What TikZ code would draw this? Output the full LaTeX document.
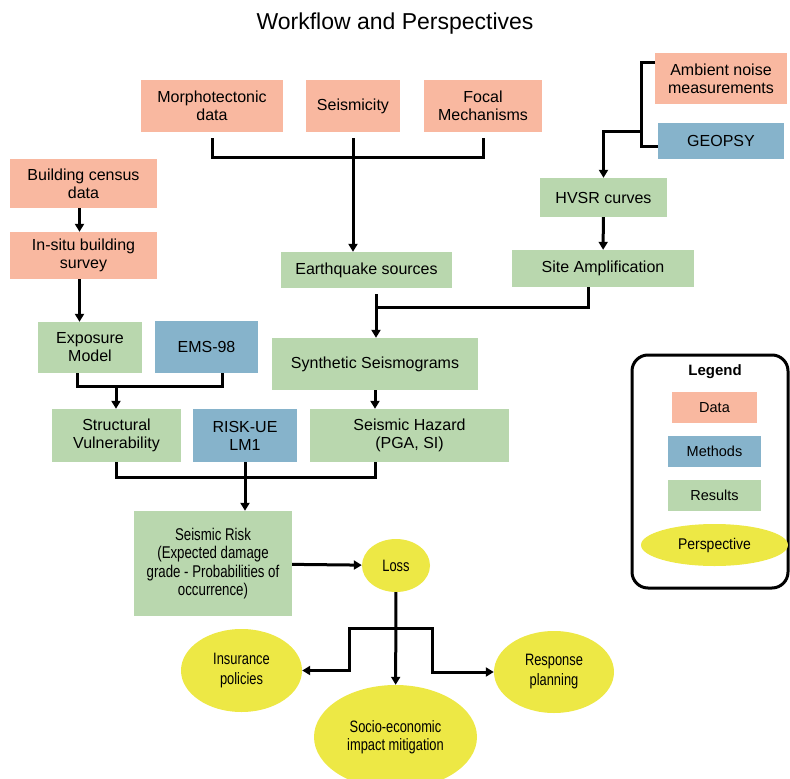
\documentclass[tikz,border=0pt]{standalone}
\usepackage{fontspec}
\setmainfont{Liberation Sans}
\newfontfamily\narrowfont[FakeStretch=0.78]{Liberation Sans}
\newfontfamily\legendfont[FakeStretch=0.9]{Liberation Sans}
\usepackage{xcolor}
\definecolor{cData}{HTML}{F9B8A0}
\definecolor{cMethod}{HTML}{86B3CB}
\definecolor{cResult}{HTML}{B9D7AE}
\definecolor{cPersp}{HTML}{EDE845}
\usetikzlibrary{positioning,arrows.meta,shapes.geometric}
\tikzset{
  node-box/.style={draw=none,inner sep=2pt,align=center,
    font=\fontsize{16}{18}\selectfont},
  node-data/.style={node-box,fill=cData},
  node-method/.style={node-box,fill=cMethod},
  node-result/.style={node-box,fill=cResult},
  node-persp/.style={ellipse,fill=cPersp,inner sep=1pt,align=center,
    font=\narrowfont\fontsize{16.5}{20}\selectfont},
  node-legend/.style={font=\fontsize{14.5}{16}\selectfont},
  box-size/.style 2 args={minimum width=#1,minimum height=#2},
  line/.style={line width=3pt,draw=black},
  arrow/.style={line,-{Triangle[length=8pt,width=9pt]}},
}

\begin{document}
\begin{tikzpicture}[x=1pt,y=-1pt]
  \useasboundingbox (0,0) rectangle (790,779);
  \node[font=\fontsize{23}{26}\selectfont] (title) at (395,24) {Workflow and Perspectives};

  % inputs
  \node[node-data,box-size={142}{52}] (morph) at (212,106) {Morphotectonic\\data};
  \node[node-data,box-size={94}{52}] (seis) at (353,106) {Seismicity};
  \node[node-data,box-size={118}{52}] (focal) at (483,106) {Focal\\Mechanisms};
  \node[node-data,box-size={132}{51}] (amb) at (721,78.5) {Ambient noise\\measurements};
  \node[node-method,box-size={126}{36}] (geo) at (721,141) {GEOPSY};
  \node[node-data,box-size={147}{49}] (census) at (83.5,183.5) {Building census\\data};
  \node[node-data,box-size={147}{47}] (insitu) at (83.5,255.5) {In-situ building\\survey};

  % results
  \node[node-result,box-size={127}{39}] (hvsr) at (603.5,197.5) {HVSR curves};
  \node[node-result,box-size={171}{36}] (eq) at (366.5,270) {Earthquake sources};
  \node[node-result,box-size={182}{37}] (site) at (603,268.5) {Site Amplification};
  \node[node-result,box-size={104}{51}] (expo) at (90,347.5) {Exposure\\Model};
  \node[node-method,box-size={103}{52}] (ems) at (206.5,347) {EMS-98};
  \node[node-result,box-size={206}{52}] (synth) at (375,364) {Synthetic Seismograms};
  \node[node-result,box-size={129}{53}] (struct) at (116.5,435.5) {Structural\\Vulnerability};
  \node[node-method,box-size={104}{53}] (riskue) at (245,435.5) {RISK-UE\\LM1};
  \node[node-result,box-size={199}{53}] (haz) at (409.5,435.5) {Seismic Hazard\\(PGA, SI)};
  \node[node-result,box-size={158}{105},font=\narrowfont\fontsize{17}{18.3}\selectfont]
    (srisk) at (213,563.5) {Seismic Risk\\(Expected damage\\grade - Probabilities of\\occurrence)};

  % perspectives
  \node[node-persp,box-size={68}{53}] (loss) at (396,565.5) {Loss};
  \node[node-persp,box-size={121}{83}] (ins) at (241.5,670.5) {Insurance\\policies};
  \node[node-persp,box-size={120}{82}] (resp) at (554,672) {Response\\planning};
  \node[node-persp,box-size={163}{104},font=\narrowfont\fontsize{16.5}{18.3}\selectfont]
    (socio) at (395.5,737) {Socio-economic\\impact mitigation};

  % legend
  \node[draw=black,line width=3pt,rounded corners=16pt,box-size={156}{233}] (legend) at (710,471.5) {};
  \node[node-legend,font=\bfseries\fontsize{15}{16}\selectfont] (legtitle) at (715,372) {Legend};
  \node[node-box,node-legend,fill=cData,box-size={85}{31}] (legdata) at (714.5,407.5) {Data};
  \node[node-box,node-legend,fill=cMethod,box-size={93}{31}] (legmethod) at (714.5,451.5) {Methods};
  \node[node-box,node-legend,fill=cResult,box-size={93}{31}] (legresult) at (714.5,495.5) {Results};
  \node[node-persp,box-size={147}{42},font=\legendfont\fontsize{15.5}{17}\selectfont]
    (legpersp) at (714.5,545) {Perspective};

  % junctions
  \coordinate (jsrc) at (353,157);
  \coordinate (jgeo) at (641,131);
  \coordinate (jsyn) at (376,307);
  \coordinate (jvul) at (116,386);
  \coordinate (jrisk) at (245,477);
  \coordinate (jloss) at (396,628);
  \coordinate (jlossl) at (349,628);
  \coordinate (jlossr) at (432,628);

  \draw[line,shorten <=6pt,shorten >=6pt] (morph.south) |- (jsrc) -| (focal.south);
  \draw[arrow,shorten <=6pt] (seis.south) -- (seis.south |- eq.north);
  \draw[line] ([yshift=16pt]amb.west) -| (jgeo) |- ([yshift=-5pt]geo.west);
  \draw[arrow] (jgeo) -| (hvsr.north);
  \draw[arrow] (hvsr) -- (site);
  \draw[line] ([xshift=-15pt]site.south) |- (jsyn);
  \draw[line,shorten <=6pt] (eq.south -| jsyn) -- (jsyn);
  \draw[arrow] (jsyn) -- (jsyn |- synth.north);
  \draw[arrow] (synth) -- (synth |- haz.north);

  \draw[arrow] ([xshift=-4pt]census.south) -- ([xshift=-4pt]insitu.north);
  \draw[arrow] ([xshift=-4pt]insitu.south) -- ([xshift=-4pt]insitu.south |- expo.north);
  \draw[line] ([xshift=-13pt]expo.south) |- (jvul) -| ([xshift=16pt]ems.south);
  \draw[arrow] (jvul) -- (jvul |- struct.north);

  \draw[line] (struct.south) |- (jrisk) -| (synth.south |- haz.south);
  \draw[arrow] (riskue.south) -- (riskue.south |- srisk.north);

  \draw[arrow] (srisk) -- (loss);
  \draw[arrow] (loss) -- (socio);
  \draw[arrow] (jlossr) -- (jlossl) |- (ins.east);
  \draw[arrow] (jlossl) -- (jlossr) |- (resp.west);
\end{tikzpicture}
\end{document}
